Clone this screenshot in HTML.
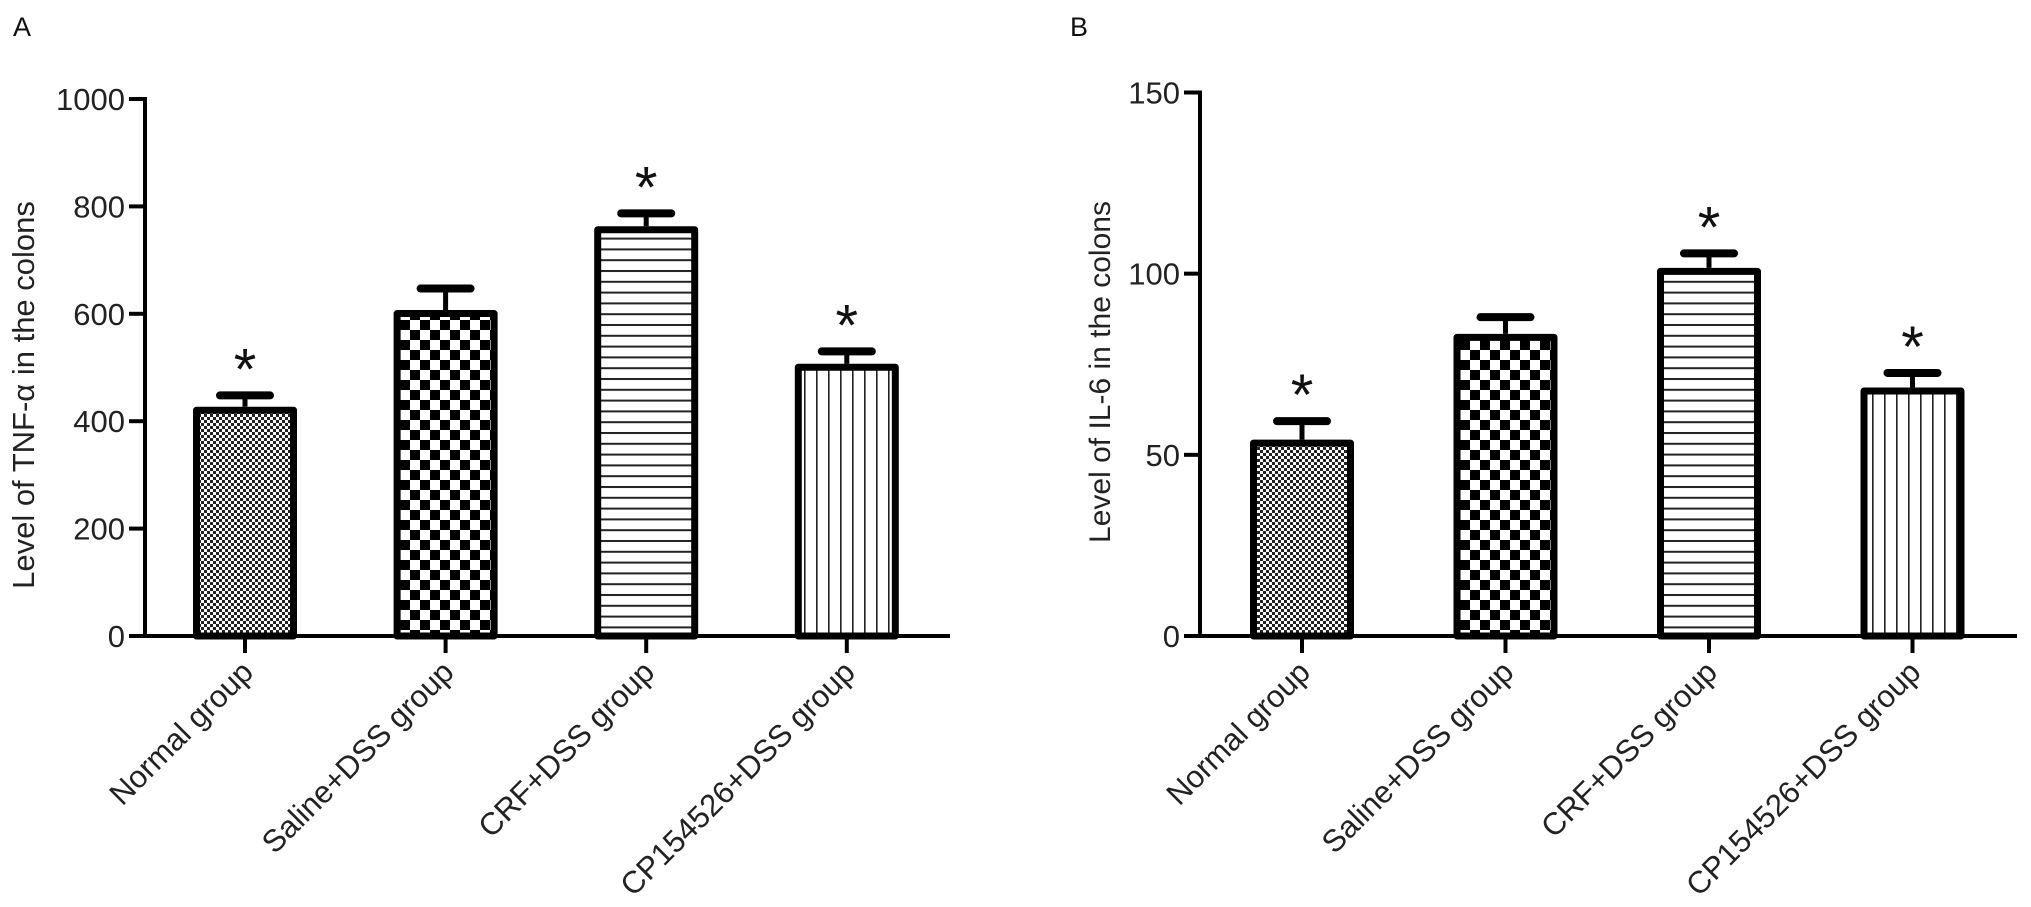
<!DOCTYPE html>
<html><head><meta charset="utf-8"><style>
html,body{margin:0;padding:0;background:#fff;}
svg{display:block;font-family:"Liberation Sans",Arial,sans-serif;}
</style></head><body>
<svg id="chart" width="2031" height="907" viewBox="0 0 2031 907" xmlns="http://www.w3.org/2000/svg">
<defs>
<pattern id="pDots" width="6" height="6" patternUnits="userSpaceOnUse"><rect width="6" height="6" fill="#fff"/><rect x="0" y="0" width="3" height="3" fill="#222"/><rect x="3" y="3" width="3" height="3" fill="#222"/></pattern>
<pattern id="pCheck" width="20" height="20" patternUnits="userSpaceOnUse"><rect width="20" height="20" fill="#fff"/><rect x="0" y="0" width="10" height="10" fill="#000"/><rect x="10" y="10" width="10" height="10" fill="#000"/></pattern>
<pattern id="pHoriz" width="10" height="10.8" patternUnits="userSpaceOnUse"><rect width="10" height="10.8" fill="#fff"/><rect x="0" y="0" width="10" height="2" fill="#222"/></pattern>
<pattern id="pVert" width="12" height="10" patternUnits="userSpaceOnUse"><rect width="12" height="10" fill="#fff"/><rect x="0" y="0" width="1.6" height="10" fill="#222"/></pattern>
</defs>
</svg>
<script>
const categories = ["Normal group","Saline+DSS group","CRF+DSS group","CP154526+DSS group"];
const tnfValues = [427, 607, 763, 507];
const tnfErrors = [448, 647, 787, 530];
const tnfSig = [true, false, true, true];
const il6Values = [54.2, 83.4, 101.6, 68.6];
const il6Errors = [59.3, 88, 105.6, 72.6];
const il6Sig = [true, false, true, true];
const tnfTicks = [0, 200, 400, 600, 800, 1000];
const il6Ticks = [0, 50, 100, 150];
const fills = ["url(#pDots)","url(#pCheck)","url(#pHoriz)","url(#pVert)"];

const svg = document.getElementById('chart');
const NS = 'http://www.w3.org/2000/svg';
function mk(tag, attrs, parent){const e=document.createElementNS(NS,tag);for(const k in attrs)e.setAttribute(k,attrs[k]);(parent||svg).appendChild(e);return e;}

function panel(cfg){
  const g = mk('g',{});
  
  
  const y = v => cfg.y0 - (v - 0) / cfg.max * (cfg.y0 - cfg.yTop);
  const x = i => cfg.x0 + cfg.step * i;
  const L = mk('text',{x:cfg.letterX,y:36,'font-size':27,fill:'#111'},g); L.textContent=cfg.letter;
  
  
  const ya = mk('line',{x1:cfg.ax,y1:y(cfg.max)-2,x2:cfg.ax,y2:cfg.y0+2,stroke:'#000','stroke-width':4},g);
  
  
  cfg.ticks.forEach(t=>{
    mk('line',{x1:cfg.ax-16,y1:y(t),x2:cfg.ax,y2:y(t),stroke:'#000','stroke-width':4},g);
    const tl = mk('text',{x:cfg.ax-20,y:y(t)+11,'font-size':31,'text-anchor':'end',fill:'#222'},g);
    tl.textContent = t;
    
    
  });
  const yt = mk('text',{x:0,y:0,'font-size':cfg.titleSize,'text-anchor':'middle',fill:'#222',transform:`translate(${cfg.titleX},${cfg.titleY}) rotate(-90)`},g);
  yt.textContent = cfg.title;
  
  
  const xa = mk('line',{x1:cfg.xStart,y1:cfg.y0,x2:cfg.xEnd,y2:cfg.y0,stroke:'#000','stroke-width':4},g);
  
  
  categories.forEach((c,i)=>{
    const cx = x(i), bw = 104, top = y(cfg.values[i]);
    mk('line',{x1:cx,y1:top,x2:cx,y2:y(cfg.errors[i]),stroke:'#000','stroke-width':5},g);
    const cap = mk('line',{x1:cx-25,y1:y(cfg.errors[i]),x2:cx+25,y2:y(cfg.errors[i]),stroke:'#000','stroke-width':8,'stroke-linecap':'round'},g);
    
    
    const b = mk('rect',{x:cx-bw/2+3.5,y:top+3.5,width:bw-7,height:cfg.y0-top-3.5,fill:fills[i],stroke:'#000','stroke-width':7,'stroke-linejoin':'round'},g);
    
    
    mk('line',{x1:cx,y1:cfg.y0,x2:cx,y2:cfg.y0+17,stroke:'#000','stroke-width':4},g);
    const lab = mk('text',{x:0,y:0,'font-size':31,'text-anchor':'end',fill:'#222',transform:`translate(${cx+10},${cfg.y0+38}) rotate(-45)`},g);
    lab.textContent = c;
    
    
    if(cfg.sig[i]){
      const s = mk('text',{x:cx,y:y(cfg.errors[i])-38+32,'font-size':58,'text-anchor':'middle',fill:'#111'},g);
      s.textContent='*';
      
      
    }
  });
}
panel({name:'panel-a-tnf',letter:'A',letterX:13,ax:145,y0:636,yTop:99,max:1000,ticks:tnfTicks,values:tnfValues,errors:tnfErrors,sig:tnfSig,
  x0:245,step:200.6,xStart:143,xEnd:950,title:'Level of TNF-\u03b1 in the colons',titleSize:31,titleX:34,titleY:395});
panel({name:'panel-b-il6',letter:'B',letterX:1070,ax:1200,y0:636,yTop:92.5,max:150,ticks:il6Ticks,values:il6Values,errors:il6Errors,sig:il6Sig,
  x0:1302,step:203.5,xStart:1185,xEnd:2017,title:'Level of IL-6 in the colons',titleSize:30,titleX:1110,titleY:372});
</script>
</body></html>
